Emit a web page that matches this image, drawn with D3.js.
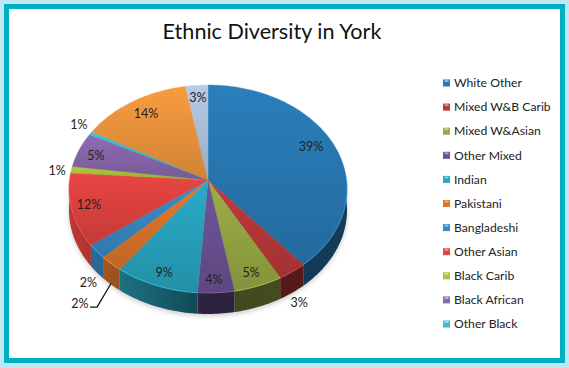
<!DOCTYPE html>
<html>
<head>
<meta charset="utf-8">
<script src="https://cdn.jsdelivr.net/npm/d3@7"></script>
<style>
  html, body { margin: 0; padding: 0; background: #fff; }
  svg { display: block; }
  text { font-family: Lato, "Open Sans", sans-serif; fill: #222; }
</style>
</head>
<body>
<div id="chart"></div>
<script>
// The legend in the picture stops at 11 names, the last two slices are unnamed
const categories = ["White Other", "Mixed W&B Carib", "Mixed W&Asian", "Other Mixed", "Indian", "Pakistani",
  "Bangladeshi", "Other Asian", "Black Carib", "Black African", "Other Black"];
const values = [38.9, 3.1, 5.2, 3.9, 9.0, 2.5, 2.2, 11.3, 1.0, 5.5, 0.5, 14.1, 2.8];
const percentLabels = ["39%", "3%", "5%", "4%", "9%", "2%", "2%", "12%", "1%", "5%", "1%", "14%", "3%"];
const sliceColors = ["#2a7fbc", "#c23a3c", "#9cb046", "#70559a", "#2aabc8", "#e67a2c",
  "#3a8fcc", "#ea4542", "#b4cb3c", "#8f6cb2", "#3ec2dc", "#f99c40", "#b6cde8"];

const width = 569, height = 368;

// Pie geometry, tilted with a small perspective so the apex sits above the middle of the ellipse
const apex = {x: 208, y: 180};
const radiusX = 138.5, radiusY = 103.2, tilt = 0.0865, depth = 21;

// Label placement, radius as a fraction of the pie and turn in degrees away from the slice middle
const labelRadius = [0.833, 1.234, 0.884, 0.895, 0.886, 1.368, 1.211, 0.874, 1.103, 0.862, 1.125, 0.826, 0.857];
const labelTurn = [-3.3, 5.5, 0.4, 0.5, -0.8, -3.1, -8.3, 0.7, -0.8, -0.9, 1.5, 0.5, -0.2];

const svg = d3.select("#chart").append("svg")
  .attr("width", width)
  .attr("height", height);
const defs = svg.append("defs");

// Frame
svg.append("rect").attr("width", width).attr("height", height).attr("fill", "#bfe7ef");
svg.append("rect").attr("x", 4).attr("y", 4).attr("width", 561).attr("height", 359).attr("fill", "#00adc1");
svg.append("rect").attr("x", 9).attr("y", 9).attr("width", 551).attr("height", 349).attr("fill", "#fff");

// Title
svg.append("text")
  .attr("x", 272)
  .attr("y", 39)
  .attr("text-anchor", "middle")
  .style("font-size", "21.6px")
  .style("fill", "#111")
  .text("Ethnic Diversity in York");

const xScale = d3.scaleLinear().domain([-1, 1]).range([apex.x - radiusX, apex.x + radiusX]);
const yScale = d3.scaleLinear().domain([-1, 1]).range([apex.y - radiusY, apex.y + radiusY]);

// Angle is clockwise from the top, r is 1 on the rim
function project(angle, r = 1) {
  const u = r * Math.sin(angle), v = -r * Math.cos(angle);
  const d = 1 - tilt * v;
  return [xScale(u / d), yScale(v / d)];
}

const pie = d3.pie().sort(null).value(d => d);
const slices = pie(values);
const line = d3.line();

function rimPoints(a0, a1) {
  const n = Math.max(2, Math.ceil((a1 - a0) / 0.02));
  return d3.range(n + 1).map(i => project(a0 + (a1 - a0) * i / n));
}

// Soft shadow under the pie
const blur = defs.append("filter").attr("id", "soft").attr("x", "-10%").attr("y", "-10%").attr("width", "120%").attr("height", "120%");
blur.append("feGaussianBlur").attr("stdDeviation", 2.5);
svg.append("path")
  .attr("d", line(rimPoints(0, 2 * Math.PI).map(p => [p[0], p[1] + depth + 2])) + "Z")
  .attr("fill", "#000")
  .attr("opacity", 0.2)
  .attr("filter", "url(#soft)");

// Gradients, one pair per slice. The top face shades over each slice on its own
slices.forEach((s, i) => {
  const c = d3.color(sliceColors[i]);
  const top = defs.append("linearGradient").attr("id", "top" + i)
    .attr("x1", 0).attr("x2", 0).attr("y1", 0).attr("y2", 1);
  top.append("stop").attr("offset", "0%").attr("stop-color", c);
  top.append("stop").attr("offset", "100%").attr("stop-color", c.darker(0.5));
  const wall = defs.append("linearGradient").attr("id", "wall" + i)
    .attr("gradientUnits", "userSpaceOnUse")
    .attr("x1", apex.x - radiusX).attr("x2", apex.x + radiusX).attr("y1", 0).attr("y2", 0);
  wall.append("stop").attr("offset", "0%").attr("stop-color", c.darker(0.6));
  wall.append("stop").attr("offset", "25%").attr("stop-color", c.darker(1.4));
  wall.append("stop").attr("offset", "50%").attr("stop-color", c.darker(2.6));
  wall.append("stop").attr("offset", "100%").attr("stop-color", c.darker(2.1));
});

// Side wall, only the front half of the rim can be seen
const pieG = svg.append("g");
slices.forEach((s, i) => {
  const a0 = Math.max(s.startAngle, Math.PI / 2), a1 = Math.min(s.endAngle, 3 * Math.PI / 2);
  if (a1 <= a0) return;
  const rim = rimPoints(a0, a1);
  const low = rim.map(p => [p[0], p[1] + depth]).reverse();
  pieG.append("path")
    .attr("d", line(rim.concat(low)) + "Z")
    .attr("fill", `url(#wall${i})`);
});

// Top face
slices.forEach((s, i) => {
  const pts = [[apex.x, apex.y]].concat(rimPoints(s.startAngle, s.endAngle));
  pieG.append("path")
    .attr("d", line(pts) + "Z")
    .attr("fill", `url(#top${i})`)
    .attr("stroke", `url(#top${i})`)
    .attr("stroke-width", 0.4);
});

// Bright bevel on the lower edge of the top face
slices.forEach((s, i) => {
  const a0 = Math.max(s.startAngle, Math.PI / 2), a1 = Math.min(s.endAngle, 3 * Math.PI / 2);
  if (a1 <= a0) return;
  pieG.append("path")
    .attr("d", line(rimPoints(a0, a1)))
    .attr("fill", "none")
    .attr("stroke", d3.color(sliceColors[i]).brighter(0.7))
    .attr("stroke-opacity", 0.45)
    .attr("stroke-width", 1.1);
});

// Percent labels
const labelPos = slices.map((s, i) => {
  const mid = (s.startAngle + s.endAngle) / 2 + labelTurn[i] * Math.PI / 180;
  return project(mid, labelRadius[i]);
});
svg.append("g").selectAll("text").data(percentLabels).enter().append("text")
  .attr("x", (d, i) => labelPos[i][0])
  .attr("y", (d, i) => labelPos[i][1])
  .attr("dy", "0.35em")
  .attr("text-anchor", "middle")
  .style("font-size", "12.5px")
  .text(d => d);

// Leader line for the Pakistani label
const leaderSlice = slices[5];
const leaderStart = project((leaderSlice.startAngle + leaderSlice.endAngle) / 2);
svg.append("path")
  .attr("d", line([
    [leaderStart[0], leaderStart[1] + depth - 1],
    [labelPos[5][0] + 17, labelPos[5][1] + 4],
    [labelPos[5][0] + 10, labelPos[5][1] + 4]
  ]))
  .attr("fill", "none")
  .attr("stroke", "#111")
  .attr("stroke-width", 1.3);

// Legend
const legendY = d3.scalePoint().domain(categories).range([83, 324]);
const legend = svg.append("g").selectAll("g").data(categories).enter().append("g")
  .attr("transform", d => `translate(443,${legendY(d)})`);
legend.append("rect")
  .attr("x", 0).attr("y", -3.5)
  .attr("width", 7).attr("height", 7)
  .attr("fill", (d, i) => d3.color(sliceColors[i]).darker(0.1));
legend.append("rect")
  .attr("x", 1.5).attr("y", -3)
  .attr("width", 4).attr("height", 2)
  .attr("fill", "#fff")
  .attr("opacity", 0.45);
legend.append("text")
  .attr("x", 11)
  .attr("dy", "0.35em")
  .style("font-size", "12.2px")
  .text(d => d);
</script>
</body>
</html>
